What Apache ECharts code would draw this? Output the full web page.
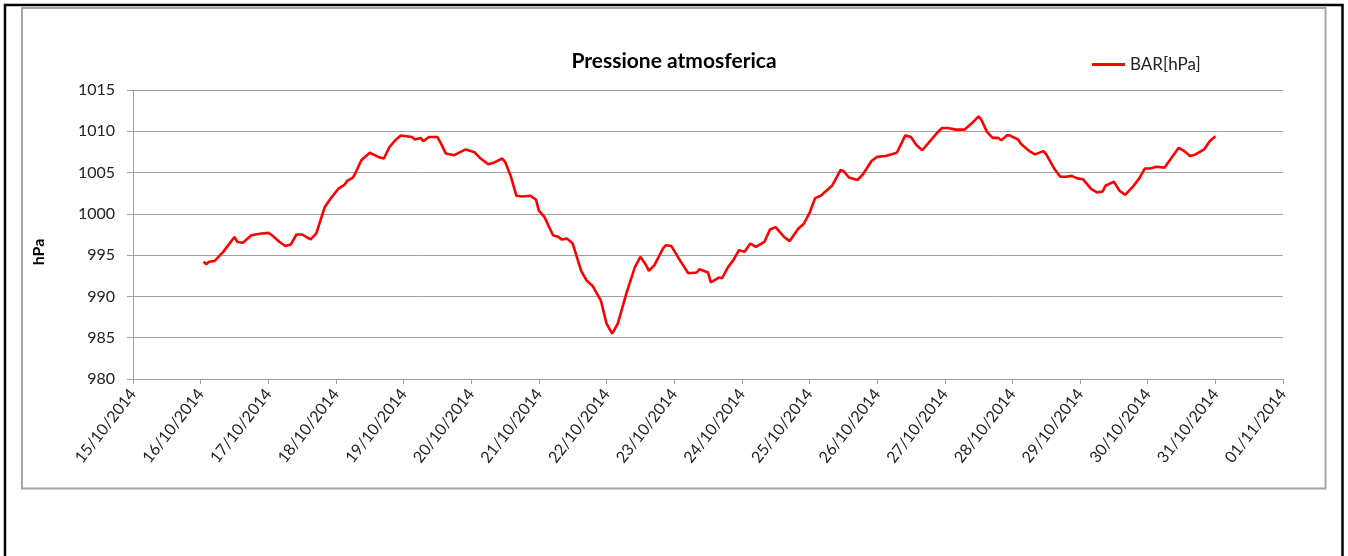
<!DOCTYPE html>
<html lang="it">
<head>
    <meta charset="UTF-8">
    <title>Pressione atmosferica</title>
    <style>
        html, body { margin: 0; padding: 0; background: #fff; }
        #main { width: 1348px; height: 556px; }
    </style>
    <script src="https://cdn.jsdelivr.net/npm/echarts@6/dist/echarts.min.js"></script>
</head>
<body>
<div id="main"></div>
<script>
    // ore trascorse dal 15/10/2014 00:00
    var startDate = Date.UTC(2014, 9, 15);
    var hours = [
        25, 26, 27, 29, 32, 36, 37, 39, 40, 42, 45, 48, 49, 52, 54, 56, 58, 60, 63, 65,
        68, 70, 73, 75, 76, 78, 79, 81, 84, 87, 89, 91, 93, 95, 97, 99, 100, 102, 103, 105,
        108, 109, 111, 114, 115, 118, 121, 123, 126, 128, 131, 132, 134, 136, 138, 141, 143, 144, 146, 149,
        151, 152, 154, 156, 159, 161, 163, 166, 168, 170, 172, 175, 178, 180, 182, 183, 185, 188, 189, 191,
        194, 197, 200, 201, 204, 205, 208, 209, 211, 213, 215, 217, 219, 221, 224, 226, 228, 231, 233, 236,
        238, 240, 242, 244, 248, 251, 252, 254, 257, 259, 262, 264, 267, 271, 274, 276, 278, 280, 283, 285,
        287, 289, 292, 295, 298, 300, 301, 303, 305, 307, 308, 310, 311, 314, 315, 318, 320, 323, 324, 327,
        329, 331, 333, 335, 337, 340, 342, 344, 345, 348, 350, 352, 355, 357, 359, 361, 363, 366, 367, 371,
        373, 375, 377, 380, 382, 384
    ];
    var bar = [
        994.2, 993.9, 994.2, 994.3, 995.4, 997.2, 996.6, 996.5, 996.8, 997.4, 997.6, 997.7, 997.5, 996.6, 996.1, 996.3, 997.5, 997.5, 996.9, 997.6,
        1000.8, 1001.8, 1003.1, 1003.5, 1004.0, 1004.4, 1005.0, 1006.5, 1007.4, 1006.9, 1006.7, 1008.1, 1008.9, 1009.5, 1009.4, 1009.3, 1009.0, 1009.2, 1008.8, 1009.3,
        1009.3, 1008.7, 1007.3, 1007.1, 1007.3, 1007.8, 1007.5, 1006.8, 1006.0, 1006.2, 1006.7, 1006.3, 1004.6, 1002.2, 1002.1, 1002.2, 1001.7, 1000.4, 999.6, 997.4,
        997.2, 996.9, 997.0, 996.4, 993.1, 991.9, 991.3, 989.5, 986.7, 985.5, 986.7, 990.3, 993.5, 994.8, 993.8, 993.1, 993.8, 995.8, 996.2, 996.1,
        994.4, 992.8, 992.9, 993.3, 992.9, 991.7, 992.3, 992.2, 993.5, 994.4, 995.6, 995.4, 996.4, 996.0, 996.6, 998.1, 998.4, 997.2, 996.7, 998.2,
        998.8, 1000.1, 1001.9, 1002.2, 1003.4, 1005.3, 1005.2, 1004.4, 1004.1, 1004.8, 1006.4, 1006.9, 1007.0, 1007.4, 1009.5, 1009.3, 1008.3, 1007.7, 1008.9, 1009.7,
        1010.4, 1010.4, 1010.2, 1010.2, 1011.1, 1011.8, 1011.4, 1009.9, 1009.2, 1009.2, 1008.9, 1009.5, 1009.5, 1009.0, 1008.5, 1007.6, 1007.2, 1007.6, 1007.2, 1005.4,
        1004.5, 1004.5, 1004.6, 1004.3, 1004.2, 1003.0, 1002.6, 1002.7, 1003.4, 1003.9, 1002.8, 1002.3, 1003.4, 1004.3, 1005.5, 1005.5, 1005.7, 1005.6, 1006.1, 1008.0,
        1007.6, 1007.0, 1007.2, 1007.8, 1008.8, 1009.4
    ];
    var yTicks = [980, 985, 990, 995, 1000, 1005, 1010, 1015];

    function pad(n) { return n < 10 ? '0' + n : '' + n; }
    function dateLabel(h) {
        var d = new Date(startDate + h * 3600 * 1000);
        return pad(d.getUTCDate()) + '/' + pad(d.getUTCMonth() + 1) + '/' + d.getUTCFullYear();
    }

    var data = [];
    for (var i = 0; i < hours.length; i++) {
        data.push([hours[i], bar[i]]);
    }

    var myChart = echarts.init(document.getElementById('main'));
    var font = 'Lato, "Open Sans", sans-serif';

    var option = {
        backgroundColor: '#fff',
        animation: false,
        textStyle: { fontFamily: font },
        title: {
            text: 'Pressione atmosferica',
            left: 'center',
            top: 46,
            textStyle: { fontFamily: font, fontSize: 21, fontWeight: 'bold', color: '#000' }
        },
        legend: {
            data: ['BAR[hPa]'],
            left: 1087,
            top: 51,
            icon: 'rect',
            itemWidth: 33,
            itemHeight: 3,
            textStyle: { fontFamily: font, fontSize: 17, color: '#222' }
        },
        grid: { left: 133, top: 90, right: 65, bottom: 177 },
        xAxis: {
            type: 'value',
            min: 0,
            max: 408,
            interval: 24,
            axisLine: { lineStyle: { color: '#a0a0a0', width: 1 } },
            axisTick: { show: true, length: 5, lineStyle: { color: '#a0a0a0' } },
            splitLine: { show: false },
            axisLabel: {
                rotate: 52,
                margin: 12,
                fontSize: 16,
                color: '#222',
                fontFamily: font,
                showMinLabel: true,
                showMaxLabel: true,
                formatter: function (v) { return dateLabel(v); }
            }
        },
        yAxis: {
            type: 'value',
            min: yTicks[0],
            max: yTicks[yTicks.length - 1],
            interval: 5,
            axisLine: { show: true, lineStyle: { color: '#a0a0a0', width: 1 } },
            axisTick: { show: true, length: 6, lineStyle: { color: '#a0a0a0' } },
            splitLine: { show: true, lineStyle: { color: '#a0a0a0', width: 1 } },
            axisLabel: {
                margin: 18,
                fontSize: 16,
                color: '#222',
                fontFamily: font,
                formatter: function (v) { return String(v); }
            }
        },
        graphic: [
            {
                type: 'rect',
                shape: { x: 5, y: 5, width: 1337.5, height: 570 },
                style: { fill: null, stroke: '#000', lineWidth: 2.5 },
                silent: true
            },
            {
                type: 'rect',
                shape: { x: 22, y: 8, width: 1303.5, height: 480.5 },
                style: { fill: null, stroke: '#a6a6a6', lineWidth: 2 },
                silent: true
            },
            {
                type: 'text',
                x: 39,
                y: 252,
                rotation: Math.PI / 2,
                style: {
                    text: 'hPa',
                    fontFamily: font,
                    fontSize: 16,
                    fontWeight: 'bold',
                    fill: '#000',
                    align: 'center',
                    verticalAlign: 'middle'
                }
            }
        ],
        series: [{
            name: 'BAR[hPa]',
            type: 'line',
            data: data,
            symbol: 'none',
            smooth: false,
            lineStyle: { color: '#ff0000', width: 2.6 },
            itemStyle: { color: '#ff0000' }
        }]
    };
    myChart.setOption(option);
</script>
</body>
</html>
